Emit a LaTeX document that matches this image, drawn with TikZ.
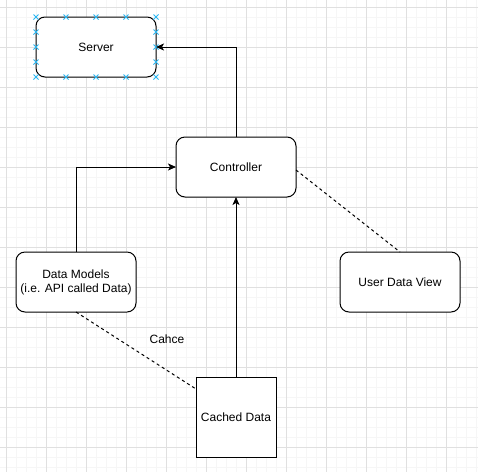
\documentclass[tikz,border=0pt]{standalone}
\usepackage{fontspec}
\setmainfont{Liberation Sans}
\usetikzlibrary{arrows.meta,calc}

\definecolor{gridminor}{HTML}{F6F6F6}
\definecolor{gridmajor}{HTML}{E0E0E0}
\definecolor{handle}{HTML}{29B6F2}

\tikzset{
  box/.style={draw=black, line width=1pt, fill=white, inner sep=0pt, outer sep=0pt,
              minimum width=120pt, minimum height=60pt, align=center,
              font=\fontsize{12}{14}\selectfont},
  roundbox/.style={box, rounded corners=9pt},
  squarebox/.style={box, minimum width=80pt, minimum height=80pt},
  link/.style={line width=1pt, -{Stealth[length=8pt,width=7pt,inset=2pt]}},
  dashlink/.style={line width=1pt, dash pattern=on 3pt off 3pt},
  handlemark/.style={draw=handle, line width=0.9pt},
}

\begin{document}
\begin{tikzpicture}[x=1pt, y=-1pt]
  \useasboundingbox (0,0) rectangle (478,472);
  \fill[white] (0,0) rectangle (478,472);

  % background grid: fine lines every 10, stronger lines every 40
  \foreach \gx in {6,16,...,476} \draw[gridminor, line width=1pt] (\gx,0) -- (\gx,472);
  \foreach \gy in {7,17,...,467} \draw[gridminor, line width=1pt] (0,\gy) -- (478,\gy);
  \foreach \gx in {6,46,...,476} \draw[gridmajor, line width=1pt] (\gx,0) -- (\gx,472);
  \foreach \gy in {7,47,...,467} \draw[gridmajor, line width=1pt] (0,\gy) -- (478,\gy);

  % boxes
  \node[roundbox]  (server) at (96,47)   {Server};
  \node[roundbox]  (ctrl)   at (236,167) {Controller};
  \node[roundbox]  (dm)     at (76,282)  {Data Models\\(i.e. API called Data)};
  \node[roundbox]  (udv)    at (400,282) {User Data View};
  \node[squarebox] (cache)  at (236,417) {Cached Data};

  % connection handles around the server box
  \foreach \hx in {0,30,60,90,120} {
    \foreach \hy in {0,60} {
      \draw[handlemark] ($(server.north west)+(\hx-2.5,\hy-2.5)$) -- ++(5,5);
      \draw[handlemark] ($(server.north west)+(\hx-2.5,\hy+2.5)$) -- ++(5,-5);
    }
  }
  \foreach \hy in {15,30,45} {
    \foreach \hx in {0,120} {
      \draw[handlemark] ($(server.north west)+(\hx-2.5,\hy-2.5)$) -- ++(5,5);
      \draw[handlemark] ($(server.north west)+(\hx-2.5,\hy+2.5)$) -- ++(5,-5);
    }
  }

  % connectors
  \draw[link] (ctrl.north) |- (server.east);
  \draw[link] (dm.north) |- (ctrl.west);
  \draw[link] (cache.north) -- (ctrl.south);
  \draw[dashlink] ([yshift=-3pt]ctrl.east) -- (udv.north);
  \draw[dashlink] (dm.south) -- ([yshift=-12pt]cache.north west);

  \node[font=\fontsize{12}{14}\selectfont] (cachelabel) at (167,339) {Cahce};
\end{tikzpicture}
\end{document}
